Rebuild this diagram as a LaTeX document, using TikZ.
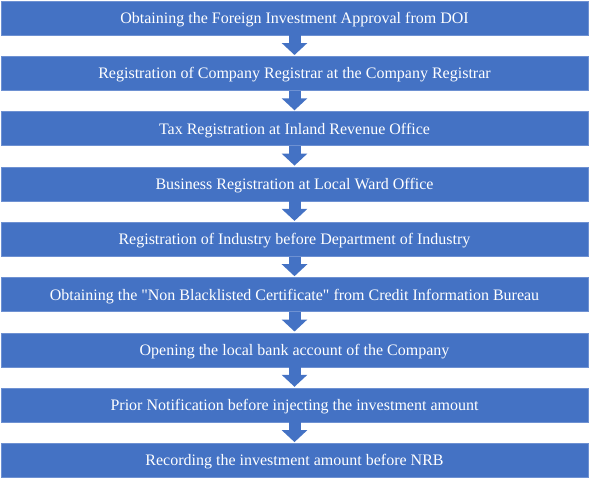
\documentclass[tikz,border=0pt]{standalone}
\usepackage{fontspec}
\setmainfont{Liberation Serif}[Ligatures=TeXOff]
\usepackage{xcolor}
\usetikzlibrary{arrows.meta}
\definecolor{stepblue}{RGB}{68,114,196}
\definecolor{stepedge}{RGB}{110,145,210}

\begin{document}
\begin{tikzpicture}[x=1pt, y=-1pt,
    stepbox/.style={fill=stepblue, draw=stepedge, line width=0.6pt,
        minimum width=587pt, minimum height=34pt, inner sep=0pt,
        text height=11pt, text depth=0pt,
        text=white, font=\fontsize{16}{19}\selectfont},
    flowarrow/.style={stepblue, line width=12pt, shorten >=1pt,
        -{Triangle[width=25pt, length=12pt]}}]
    \useasboundingbox (0,0) rectangle (590,479);

    % Procedure steps, top to bottom
    \node[stepbox] (approval) at (294.5,18) {Obtaining the Foreign Investment Approval from DOI};
    \node[stepbox] (registrar) at (294.5,73.3) {Registration of Company Registrar at the Company Registrar};
    \node[stepbox] (tax) at (294.5,128.6) {Tax Registration at Inland Revenue Office};
    \node[stepbox] (ward) at (294.5,183.9) {Business Registration at Local Ward Office};
    \node[stepbox] (industry) at (294.5,239.2) {Registration of Industry before Department of Industry};
    \node[stepbox] (blacklist) at (294.5,294.5) {Obtaining the "Non Blacklisted Certificate" from Credit Information Bureau};
    \node[stepbox] (bank) at (294.5,349.8) {Opening the local bank account of the Company};
    \node[stepbox] (notice) at (294.5,405.1) {Prior Notification before injecting the investment amount};
    \node[stepbox] (record) at (294.5,460.4) {Recording the investment amount before NRB};

    % Arrows between the steps
    \draw[flowarrow] (approval.south) -- (registrar.north);
    \draw[flowarrow] (registrar.south) -- (tax.north);
    \draw[flowarrow] (tax.south) -- (ward.north);
    \draw[flowarrow] (ward.south) -- (industry.north);
    \draw[flowarrow] (industry.south) -- (blacklist.north);
    \draw[flowarrow] (blacklist.south) -- (bank.north);
    \draw[flowarrow] (bank.south) -- (notice.north);
    \draw[flowarrow] (notice.south) -- (record.north);
\end{tikzpicture}
\end{document}
